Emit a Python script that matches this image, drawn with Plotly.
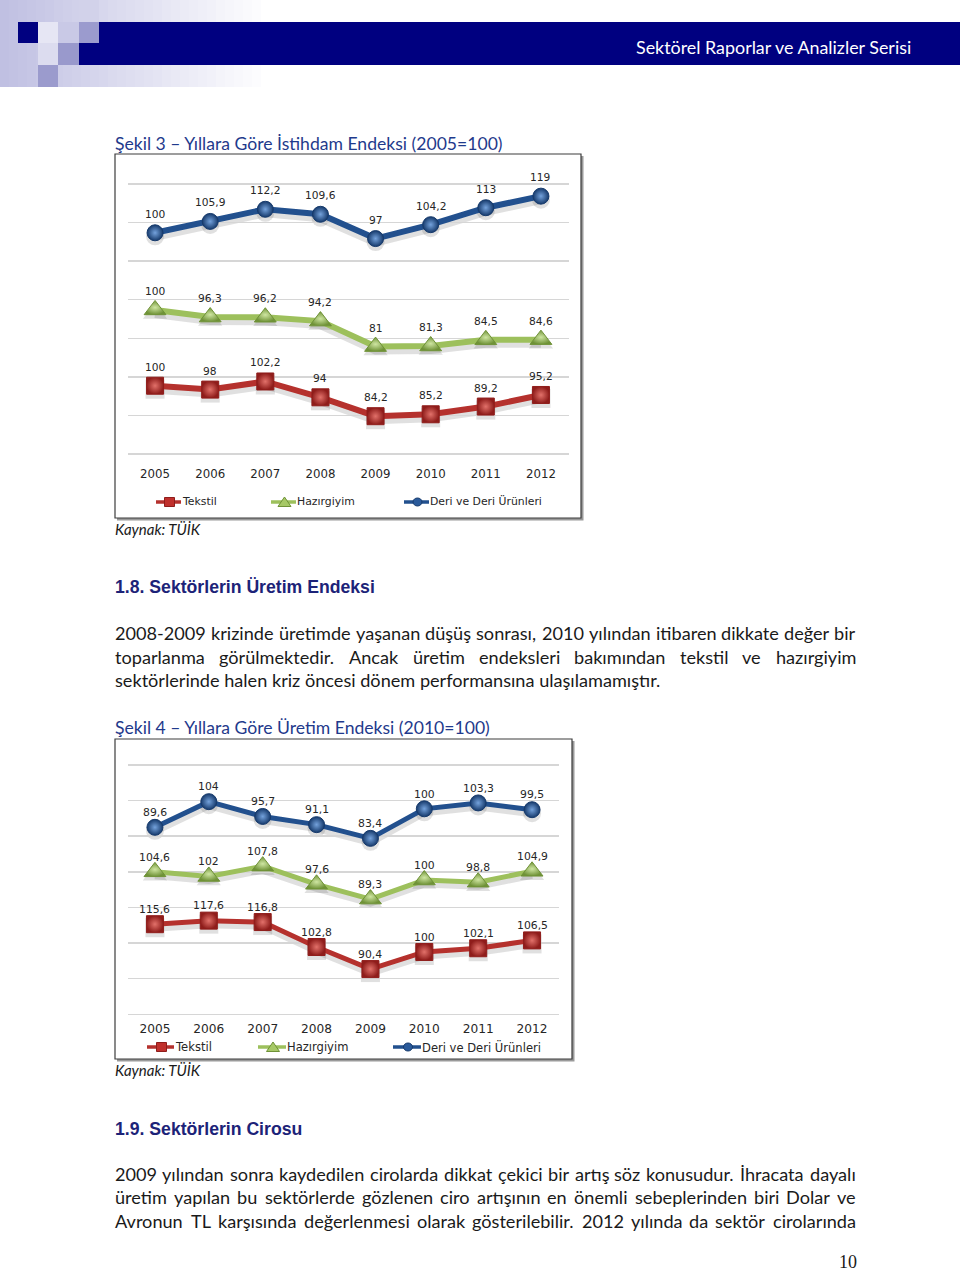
import glob
import os
import struct
import plotly.graph_objects as go

W, H = 960, 1272

# ---------------- data ----------------
years = ["2005", "2006", "2007", "2008", "2009", "2010", "2011", "2012"]
series_names = ["Tekstil", "Hazırgiyim", "Deri ve Deri Ürünleri"]

# Şekil 3 – Yıllara Göre İstihdam Endeksi (2005=100)
istihdam_tekstil = [100, 98, 102.2, 94, 84.2, 85.2, 89.2, 95.2]
istihdam_hazirgiyim = [100, 96.3, 96.2, 94.2, 81, 81.3, 84.5, 84.6]
istihdam_deri = [100, 105.9, 112.2, 109.6, 97, 104.2, 113, 119]

# Şekil 4 – Yıllara Göre Üretim Endeksi (2010=100)
uretim_tekstil = [115.6, 117.6, 116.8, 102.8, 90.4, 100, 102.1, 106.5]
uretim_hazirgiyim = [104.6, 102, 107.8, 97.6, 89.3, 100, 98.8, 104.9]
uretim_deri = [89.6, 104, 95.7, 91.1, 83.4, 100, 103.3, 99.5]

header_text = "Sektörel Raporlar ve Analizler Serisi"
title1 = "Şekil 3 – Yıllara Göre İstihdam Endeksi (2005=100)"
title2 = "Şekil 4 – Yıllara Göre Üretim Endeksi (2010=100)"
source_text = "Kaynak: TÜİK"
heading1 = "1.8. Sektörlerin Üretim Endeksi"
heading2 = "1.9. Sektörlerin Cirosu"
para1 = [
    "2008-2009 krizinde üretimde yaşanan düşüş sonrası, 2010 yılından itibaren dikkate değer bir",
    "toparlanma görülmektedir. Ancak üretim endeksleri bakımından tekstil ve hazırgiyim",
    "sektörlerinde halen kriz öncesi dönem performansına ulaşılamamıştır.",
]
para2 = [
    "2009 yılından sonra kaydedilen cirolarda dikkat çekici bir artış söz konusudur. İhracata dayalı",
    "üretim yapılan bu sektörlerde gözlenen ciro artışının en önemli sebeplerinden biri Dolar ve",
    "Avronun TL karşısında değerlenmesi olarak gösterilebilir. 2012 yılında da sektör cirolarında",
]
page_number = "10"


# ---------------- font metrics (for text fitting) ----------------
class FallbackMetrics:
    def __init__(self, avg=0.52):
        self.avg = avg

    def width(self, text, size):
        return len(text) * self.avg * size


class TTFMetrics:
    def __init__(self, path):
        data = open(path, "rb").read()
        off0 = struct.unpack(">I", data[12:16])[0] if data[:4] == b"ttcf" else 0
        num = struct.unpack(">H", data[off0 + 4:off0 + 6])[0]
        tables = {}
        for i in range(num):
            rec = off0 + 12 + 16 * i
            tag, _, off, ln = struct.unpack(">4sIII", data[rec:rec + 16])
            tables[tag.decode("latin1")] = off
        head = tables["head"]
        self.upem = struct.unpack(">H", data[head + 18:head + 20])[0]
        hhea = tables["hhea"]
        nh = struct.unpack(">H", data[hhea + 34:hhea + 36])[0]
        hm = tables["hmtx"]
        self.adv = [struct.unpack(">H", data[hm + 4 * i:hm + 4 * i + 2])[0] for i in range(nh)]
        cm = tables["cmap"]
        n = struct.unpack(">H", data[cm + 2:cm + 4])[0]
        sub4 = None
        sub12 = None
        for i in range(n):
            pid, eid, off = struct.unpack(">HHI", data[cm + 4 + 8 * i:cm + 12 + 8 * i])
            fmt = struct.unpack(">H", data[cm + off:cm + off + 2])[0]
            if fmt == 4 and sub4 is None:
                sub4 = cm + off
            if fmt == 12 and sub12 is None:
                sub12 = cm + off
        self.cmap = {}
        if sub12 is not None:
            o = sub12
            ng = struct.unpack(">I", data[o + 12:o + 16])[0]
            for g in range(ng):
                s, e, sg = struct.unpack(">III", data[o + 16 + 12 * g:o + 28 + 12 * g])
                if s > 0x2FFFF:
                    continue
                for c in range(s, min(e, 0x2FFFF) + 1):
                    self.cmap[c] = sg + (c - s)
        elif sub4 is not None:
            o = sub4
            segx2 = struct.unpack(">H", data[o + 6:o + 8])[0]
            seg = segx2 // 2
            ends = struct.unpack(">%dH" % seg, data[o + 14:o + 14 + segx2])
            starts = struct.unpack(">%dH" % seg, data[o + 16 + segx2:o + 16 + 2 * segx2])
            deltas = struct.unpack(">%dh" % seg, data[o + 16 + 2 * segx2:o + 16 + 3 * segx2])
            rpos = o + 16 + 3 * segx2
            roffs = struct.unpack(">%dH" % seg, data[rpos:rpos + segx2])
            for s in range(seg):
                for c in range(starts[s], ends[s] + 1):
                    if c == 0xFFFF:
                        continue
                    if roffs[s] == 0:
                        g = (c + deltas[s]) & 0xFFFF
                    else:
                        addr = rpos + 2 * s + roffs[s] + 2 * (c - starts[s])
                        g = struct.unpack(">H", data[addr:addr + 2])[0]
                        if g:
                            g = (g + deltas[s]) & 0xFFFF
                    self.cmap[c] = g

    def width(self, text, size):
        tot = 0
        for ch in text:
            g = self.cmap.get(ord(ch), 0)
            tot += self.adv[min(g, len(self.adv) - 1)]
        return tot * size / self.upem


def find_font(names):
    dirs = ["/usr/share/fonts", "/usr/local/share/fonts",
            os.path.expanduser("~/.fonts"), os.path.expanduser("~/.local/share/fonts")]
    for n in names:
        for d in dirs:
            if os.path.isdir(d):
                hits = glob.glob(os.path.join(d, "**", n), recursive=True)
                if hits:
                    return hits[0]
    return None


def load_metrics(names, avg):
    try:
        p = find_font(names)
        if p:
            return TTFMetrics(p)
    except Exception:
        pass
    return FallbackMetrics(avg)


M_LATO = load_metrics(["Lato-Regular.ttf"], 0.50)
M_LATO_I = load_metrics(["Lato-Italic.ttf"], 0.49)
M_DEJAVU = load_metrics(["DejaVuSans.ttf"], 0.60)
narrow_path = find_font(["LiberationSansNarrow-Bold.ttf"])
if narrow_path:
    HEAD_FAMILY = "Liberation Sans Narrow"
    M_HEAD = load_metrics(["LiberationSansNarrow-Bold.ttf"], 0.47)
else:
    HEAD_FAMILY = "Liberation Sans"
    M_HEAD = load_metrics(["LiberationSans-Bold.ttf"], 0.58)


def fit(m, text, target):
    return target / max(m.width(text, 1.0), 1e-6)


def X(px):
    return px / W


def Y(py):
    return 1 - py / H


annotations = []
shapes = []


def add_text(text, x, y, family, size, color, anchor="left", weight=None, style=None, yanchor="middle"):
    f = dict(family=family, size=size, color=color)
    if weight:
        f["weight"] = weight
    if style:
        f["style"] = style
    annotations.append(dict(text=text, x=X(x), y=Y(y), xref="paper", yref="paper",
                            xanchor=anchor, yanchor=yanchor, showarrow=False,
                            font=f, borderpad=0, borderwidth=0))


def add_justified(line, x0, x1, y, m, family, size, color):
    words = line.split(" ")
    widths = [m.width(w, size) for w in words]
    gap = (x1 - x0 - sum(widths)) / (len(words) - 1)
    x = x0
    for i, (w, wd) in enumerate(zip(words, widths)):
        if i == len(words) - 1:
            add_text(w, x1, y, family, size, color, anchor="right")
        else:
            add_text(w, x, y, family, size, color)
        x += wd + gap


def rect(x0, y0, x1, y1, fill, line=None, lw=0, layer="above"):
    shapes.append(dict(type="rect", xref="paper", yref="paper", x0=X(x0), x1=X(x1),
                       y0=Y(y1), y1=Y(y0), fillcolor=fill, layer=layer,
                       line=dict(color=line or "rgba(0,0,0,0)", width=lw)))


# ---------------- page header ----------------
c0 = (192, 192, 226)
n_strips = 30
for i in range(n_strips):
    t = i / (n_strips - 1)
    col = tuple(int(c0[k] + (255 - c0[k]) * t) for k in range(3))
    rect(i * 9, 0, i * 9 + 9.5, 87, "rgb(%d,%d,%d)" % col)
rect(79, 0, 99, 22, "#d2d2ea")
rect(38, 22, 58, 43, "#e6e6f4")
rect(58, 22, 79, 43, "#c9c9e6")
rect(79, 22, 99, 43, "#9b9bce")
rect(38, 43, 58, 65, "#dcdcef")
rect(58, 43, 79, 65, "#9999cc")
rect(38, 65, 58, 87, "#9b9bcd")
rect(18, 22, 38, 43, "#000080")
rect(99, 22, 960, 43.5, "#000080")
rect(79, 43, 960, 65, "#000080")

hsize = fit(M_LATO, header_text, 278)
add_text(header_text, 911, 46.5, "Lato", hsize, "white", anchor="right")

# ---------------- page text ----------------
TITLE_COLOR = "#1f3a8c"
HEAD_COLOR = "#1c2378"
BODY_COLOR = "#1a1a1a"

tsize = fit(M_LATO, title1, 391)
add_text(title1, 115, 143, "Lato", tsize, TITLE_COLOR)
add_text(title2, 115, 727, "Lato", tsize, TITLE_COLOR)

ksize = fit(M_LATO_I, source_text, 86)
add_text(source_text, 115, 529, "Lato", ksize, "#1a1a1a", style="italic")
add_text(source_text, 115, 1070, "Lato", ksize, "#1a1a1a", style="italic")

hdsize = fit(M_HEAD, heading1, 260)
add_text(heading1, 115, 587, HEAD_FAMILY, hdsize, HEAD_COLOR, weight="bold")
add_text(heading2, 115, 1129, HEAD_FAMILY, hdsize, HEAD_COLOR, weight="bold")

bsize = fit(M_LATO, para1[2], 547)
add_justified(para1[0], 115, 856, 633, M_LATO, "Lato", bsize, BODY_COLOR)
add_justified(para1[1], 115, 856, 657, M_LATO, "Lato", bsize, BODY_COLOR)
add_text(para1[2], 115, 680, "Lato", bsize, BODY_COLOR)
add_justified(para2[0], 115, 856, 1174, M_LATO, "Lato", bsize, BODY_COLOR)
add_justified(para2[1], 115, 856, 1197, M_LATO, "Lato", bsize, BODY_COLOR)
add_justified(para2[2], 115, 856, 1221, M_LATO, "Lato", bsize, BODY_COLOR)

add_text(page_number, 857, 1272, "Liberation Serif", 18, "#1a1a1a", anchor="right", yanchor="bottom")

# ---------------- charts ----------------
STYLE = {
    "Tekstil": dict(line="#b5312d", edge="#8f1d1b", center="#e2716a", symbol="square", size=17),
    "Hazırgiyim": dict(line="#9dc05c", edge="#6f9237", center="#cfe6a2", symbol="triangle-up", size=19),
    "Deri ve Deri Ürünleri": dict(line="#22508e", edge="#163a6c", center="#74a2dc", symbol="circle", size=16),
}

charts = [
    dict(xa="x", ya=["y4", "y5", "y6"], sh=["y", "y2", "y3"], frame=(115, 154, 581, 518),
         plot=(127.5, 184, 568.5, 454), ranges=[[64.6, 204.6], [25.3, 165.3], [-14.7, 125.3]],
         values=[istihdam_tekstil, istihdam_hazirgiyim, istihdam_deri],
         label_shift=18.5, lw=6, label_target=30.5, year_target=30, standoff=9,
         legend_y=502, legend=[(156, 181, 182), (271, 296, 297), (404, 429, 430)], legend_target=112),
    dict(xa="x2", ya=["y10", "y11", "y12"], sh=["y7", "y8", "y9"], frame=(115, 739, 572, 1059),
         plot=(128, 765, 559, 1014.3), ranges=[[65, 205], [24.6, 164.6], [-15.4, 124.6]],
         values=[uretim_tekstil, uretim_hazirgiyim, uretim_deri],
         label_shift=14.7, lw=5, label_target=31, year_target=31, standoff=4,
         legend_y=1047, legend=[(147, 174, 175), (258, 286, 287), (393, 421, 422)], legend_target=119),
]

SHADOW_DY = 3.5   # pixel drop of the soft line shadow
PAD = 1.0         # range padding (units) so that the edge gridlines are drawn


def fmt(v):
    return ("%g" % v).replace(".", ",")


def axname(axid):
    letter = "xaxis" if axid[0] == "x" else "yaxis"
    return letter + axid[1:]


fig = go.Figure()
layout_axes = {}

for ci, ch in enumerate(charts):
    fx0, fy0, fx1, fy1 = ch["frame"]
    rect(fx0 + 2, fy0 + 2, fx1 + 2.5, fy1 + 2.5, "#9a9a9a", layer="below")
    rect(fx0, fy0, fx1, fy1, "white", line="#3c3c3c", lw=1.2, layer="below")

    px0, py0, px1, py1 = ch["plot"]
    ppu = (py1 - py0) / 140.0
    ysize = fit(M_DEJAVU, "2005", ch["year_target"])
    layout_axes[axname(ch["xa"])] = dict(
        domain=[X(px0), X(px1)], anchor=ch["ya"][0], type="category",
        range=[-0.5, 7.5], showgrid=False, zeroline=False, showline=False,
        ticks="", ticklabelstandoff=ch["standoff"], automargin=False,
        tickfont=dict(family="DejaVu Sans", size=ysize, color="#262626"), fixedrange=True)
    lsize = fit(M_DEJAVU, "112,2", ch["label_target"])
    xs = list(range(len(years)))

    # soft shadows first (drawn underneath)
    for si, name in enumerate(series_names):
        sa = ch["sh"][si]
        r = ch["ranges"][si]
        layout_axes[axname(sa)] = dict(
            domain=[Y(py1 + ppu * PAD + SHADOW_DY), Y(py0 - ppu * PAD + SHADOW_DY)],
            anchor=ch["xa"], range=[r[0] - PAD, r[1] + PAD], showgrid=False,
            showticklabels=False, zeroline=False, showline=False, ticks="",
            automargin=False, fixedrange=True)
        st = STYLE[name]
        fig.add_trace(go.Scatter(
            x=years, y=ch["values"][si], xaxis=ch["xa"], yaxis=sa, mode="lines+markers",
            line=dict(color="rgba(60,60,60,0.16)", width=ch["lw"] + 3),
            marker=dict(symbol=st["symbol"], size=st["size"] + 2, color="rgba(60,60,60,0.16)"),
            cliponaxis=False, hoverinfo="skip", showlegend=False))

    for si, name in enumerate(series_names):
        ya = ch["ya"][si]
        st = STYLE[name]
        r = ch["ranges"][si]
        ax = dict(domain=[Y(py1 + ppu * PAD), Y(py0 - ppu * PAD)], anchor=ch["xa"],
                  range=[r[0] - PAD, r[1] + PAD],
                  showticklabels=False, zeroline=False, showline=False, ticks="",
                  automargin=False, fixedrange=True)
        if si == 0:
            ax.update(showgrid=True, tick0=r[0], dtick=20, gridcolor="#d6d6d6", gridwidth=1.5)
        else:
            ax.update(showgrid=False)
        layout_axes[axname(ya)] = ax
        vals = ch["values"][si]
        fig.add_trace(go.Scatter(
            x=years, y=vals, xaxis=ch["xa"], yaxis=ya, mode="lines+markers",
            line=dict(color=st["line"], width=ch["lw"]),
            marker=dict(symbol=st["symbol"], size=st["size"], color=st["edge"],
                        gradient=dict(type="radial", color=st["center"]),
                        line=dict(color=st["edge"], width=1)),
            cliponaxis=False, hoverinfo="skip", showlegend=False, name=name))
        for xi, v in zip(xs, vals):
            annotations.append(dict(x=xi, y=v, xref=ch["xa"], yref=ya, text=fmt(v),
                                    showarrow=False, yshift=ch["label_shift"],
                                    xanchor="center", yanchor="middle",
                                    font=dict(family="DejaVu Sans", size=lsize, color="#262626")))

    # legend
    gsize = fit(M_DEJAVU, "Deri ve Deri Ürünleri", ch["legend_target"])
    ly = ch["legend_y"]
    for si, name in enumerate(series_names):
        st = STYLE[name]
        lx0, lx1, tx = ch["legend"][si]
        shapes.append(dict(type="line", xref="paper", yref="paper", x0=X(lx0), x1=X(lx1),
                           y0=Y(ly), y1=Y(ly), line=dict(color=st["line"], width=3.5)))
        cx = (lx0 + lx1) / 2 + 1
        if st["symbol"] == "square":
            shapes.append(dict(type="rect", xref="paper", yref="paper", x0=X(cx - 5), x1=X(cx + 5),
                               y0=Y(ly + 4.5), y1=Y(ly - 4.5), fillcolor="#c0302c",
                               line=dict(color=st["edge"], width=1)))
        elif st["symbol"] == "triangle-up":
            path = "M %f,%f L %f,%f L %f,%f Z" % (X(cx - 6.5), Y(ly + 4.5), X(cx + 6.5), Y(ly + 4.5),
                                                  X(cx), Y(ly - 5))
            shapes.append(dict(type="path", xref="paper", yref="paper", path=path,
                               fillcolor="#a6c866", line=dict(color=st["edge"], width=1)))
        else:
            shapes.append(dict(type="circle", xref="paper", yref="paper", x0=X(cx - 4.5), x1=X(cx + 4.5),
                               y0=Y(ly + 4), y1=Y(ly - 4), fillcolor="#2a5a9a",
                               line=dict(color=st["edge"], width=1)))
        add_text(name, tx, ly, "DejaVu Sans", gsize, "#262626")

fig.update_layout(
    template="none",
    width=W, height=H, margin=dict(l=0, r=0, t=0, b=0, pad=0), autosize=False,
    paper_bgcolor="white", plot_bgcolor="rgba(0,0,0,0)",
    showlegend=False, annotations=annotations, shapes=shapes,
    **layout_axes,
)

fig.write_html("out.html", config={"displayModeBar": False, "staticPlot": True},
               post_script="document.body.style.margin='0';")
